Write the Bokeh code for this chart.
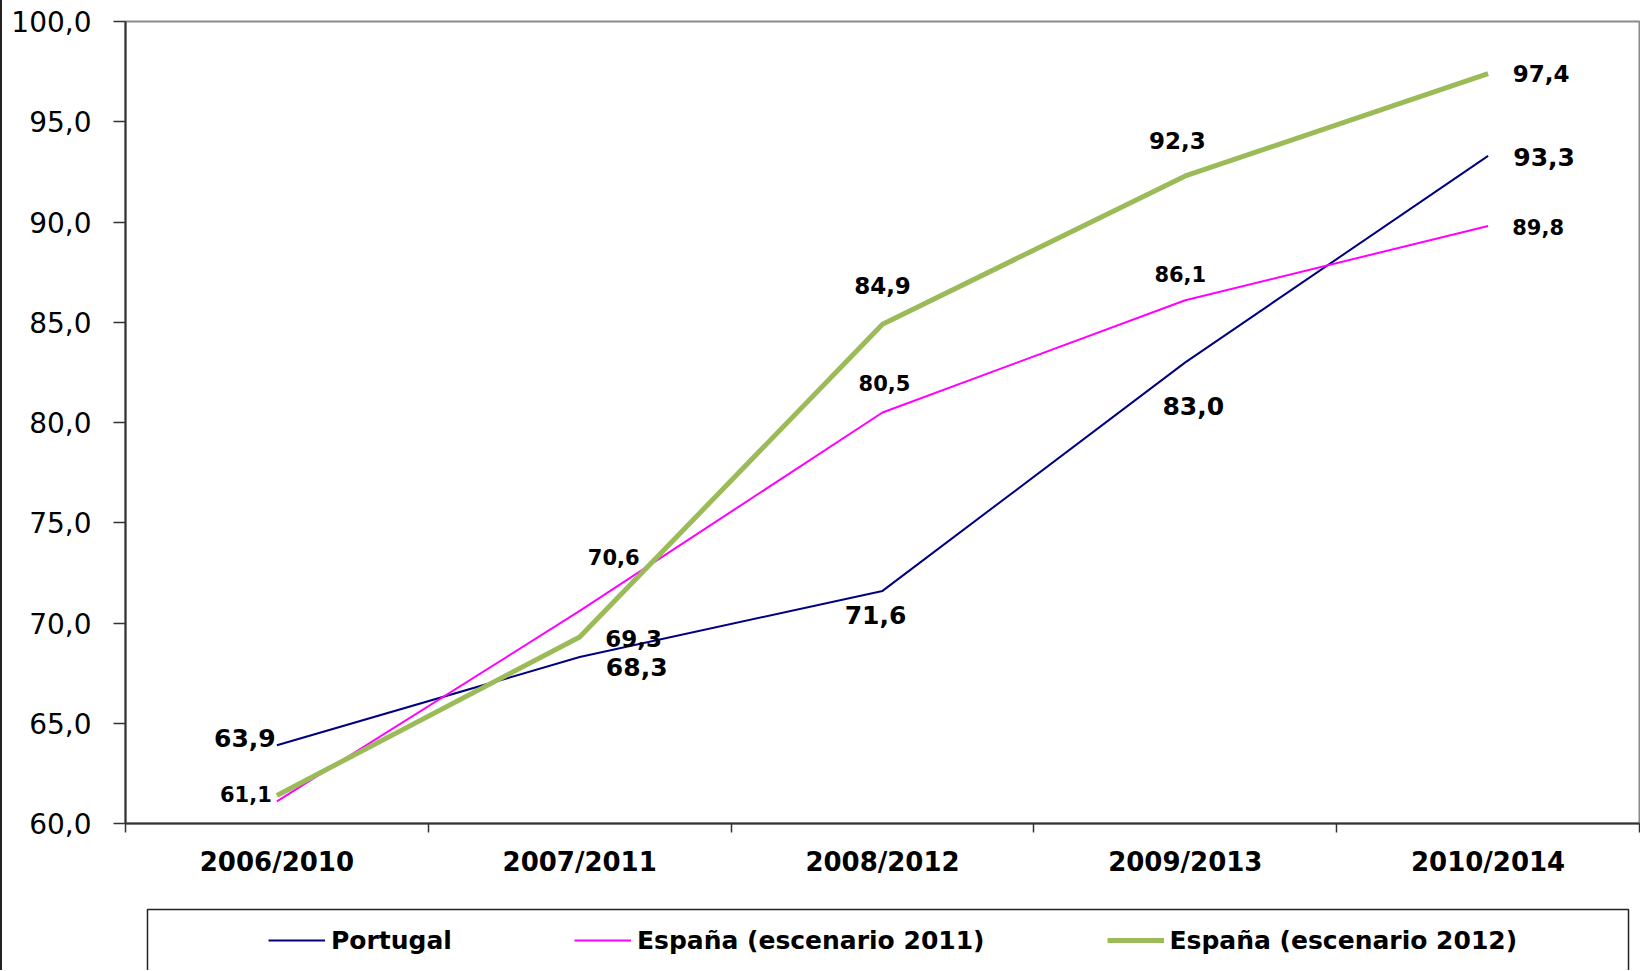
from bokeh.plotting import figure
from bokeh.layouts import column
from bokeh.models import (Range1d, FixedTicker, Legend, LegendItem, BoxAnnotation,
                          ColumnDataSource)
from bokeh.core.properties import value
from bokeh.embed import file_html
from bokeh.resources import INLINE

# ---------------- data ----------------
categories = ["2006/2010", "2007/2011", "2008/2012", "2009/2013", "2010/2014"]
portugal = [63.9, 68.3, 71.6, 83.0, 93.3]
espana_2011 = [61.1, 70.6, 80.5, 86.1, 89.8]
espana_2012 = [61.4, 69.3, 84.9, 92.3, 97.4]
series_names = ["Portugal", "España (escenario 2011)", "España (escenario 2012)"]
espana_2012_label_shown = [False, True, True, True, True]
y_ticks = [60, 65, 70, 75, 80, 85, 90, 95, 100]
y_tick_labels = ["60,0", "65,0", "70,0", "75,0", "80,0", "85,0", "90,0", "95,0", "100,0"]

# category i is drawn at the centre of slot i on a 0..N axis
x_pos = [i + 0.5 for i in range(len(categories))]
x_edges = list(range(len(categories) + 1))


def fmt(v):
    return f"{v:.1f}".replace(".", ",")


FONT = "DejaVu Sans"
AXIS_COLOR = "#333333"
series_styles = [dict(line_color="#000080", line_width=2),
                 dict(line_color="#FF00FF", line_width=2),
                 dict(line_color="#9BBB59", line_width=5)]

# ---------------- main chart ----------------
p = figure(width=1638, height=900,
           x_range=Range1d(0, len(categories)), y_range=Range1d(60, 100),
           output_backend="svg", toolbar_location=None,
           x_axis_location="below", y_axis_location="left",
           min_border_left=123, min_border_right=1, min_border_top=21, min_border_bottom=77)
p.xgrid.visible = False
p.ygrid.visible = False
p.outline_line_color = "#8a8a8a"
p.outline_line_width = 2
p.background_fill_color = "white"
p.border_fill_color = "white"

ya = p.yaxis[0]
ya.ticker = FixedTicker(ticks=y_ticks)
ya.major_label_overrides = {float(t): l for t, l in zip(y_ticks, y_tick_labels)}
ya.major_label_text_font = FONT
ya.major_label_text_font_size = "28px"
ya.major_label_text_color = "black"
ya.major_label_standoff = 22
ya.axis_line_color = AXIS_COLOR
ya.axis_line_width = 2
ya.major_tick_line_color = AXIS_COLOR
ya.major_tick_line_width = 1.5
ya.major_tick_out = 12
ya.major_tick_in = 0
ya.minor_tick_line_color = None

xa = p.xaxis[0]
xa.ticker = FixedTicker(ticks=x_pos, minor_ticks=x_edges)
xa.major_label_overrides = {float(x): c for x, c in zip(x_pos, categories)}
xa.major_label_text_font = FONT
xa.major_label_text_font_size = "26px"
xa.major_label_text_font_style = "bold"
xa.major_label_text_color = "black"
xa.major_label_standoff = 14
xa.major_tick_line_color = None
xa.major_tick_out = 0
xa.major_tick_in = 0
xa.minor_tick_line_color = AXIS_COLOR
xa.minor_tick_line_width = 1.5
xa.minor_tick_out = 9
xa.minor_tick_in = 0
xa.axis_line_color = AXIS_COLOR
xa.axis_line_width = 2

for vals, st in zip([portugal, espana_2011, espana_2012], series_styles):
    p.line(x_pos, vals, line_join="round", **st)

# data labels (offsets are screen-pixel styling)
label_offsets_pt = [(-32, -7), (57, 10), (-7, 24), (8, 44), (56, 1)]
label_offsets_11 = [(-31, -7), (34, -54), (2, -29), (-5, -26), (50, 1)]
label_offsets_12 = [(0, 0), (54, 1), (0, -39), (-8, -35), (53, 0)]


def add_labels(vals, offsets, size, shown=None):
    xs, ys, txt, dx, dy = [], [], [], [], []
    for i, (x, v) in enumerate(zip(x_pos, vals)):
        if shown is not None and not shown[i]:
            continue
        xs.append(x); ys.append(v); txt.append(fmt(v))
        dx.append(offsets[i][0]); dy.append(offsets[i][1])
    src = ColumnDataSource(dict(x=xs, y=ys, text=txt, dx=dx, dy=dy))
    p.text(x="x", y="y", text="text", x_offset="dx", y_offset="dy", source=src,
           text_align="center", text_baseline="middle", text_font=value(FONT),
           text_font_style="bold", text_font_size=size, text_color="black")


add_labels(portugal, label_offsets_pt, "25px")
add_labels(espana_2011, label_offsets_11, "21px")
add_labels(espana_2012, label_offsets_12, "23px", espana_2012_label_shown)

# ---------------- legend strip ----------------
# frame aligned with the chart above; its ranges are in pixels of that frame
STRIP_W, STRIP_H = 1514, 70
q = figure(width=1638, height=STRIP_H, x_range=Range1d(0, STRIP_W), y_range=Range1d(0, STRIP_H),
           output_backend="svg", toolbar_location=None,
           x_axis_location=None, y_axis_location=None,
           min_border_left=123, min_border_right=1, min_border_top=0, min_border_bottom=0)
q.xgrid.visible = False
q.ygrid.visible = False
q.outline_line_color = None
q.background_fill_color = "white"
q.border_fill_color = "white"

# legend border box (bottom edge runs off the page, as in the original)
q.add_layout(BoxAnnotation(left=22, right=1503, top=61, bottom=-20,
                           fill_alpha=0, line_color="#222222", line_alpha=1.0,
                           line_width=1.5))

# proxy renderers (kept off-range) just to give the legend its line swatches
legend_renderers = [q.line(x=[-50, -40], y=[-50, -40], **st) for st in series_styles]
legend = Legend(items=[LegendItem(label=n, renderers=[r])
                       for n, r in zip(series_names, legend_renderers)],
                orientation="horizontal", location=(143, 15), padding=0, margin=0,
                spacing=122, glyph_width=57, glyph_height=30, label_height=30,
                label_standoff=6, label_text_font=FONT, label_text_font_size="25px",
                label_text_font_style="bold", label_text_color="black",
                border_line_color=None, background_fill_alpha=0)
q.add_layout(legend, "center")

layout = column(p, q, spacing=0, styles={"border-left": "2px solid #222222"})

open("out.html", "w").write(file_html(layout, INLINE))
